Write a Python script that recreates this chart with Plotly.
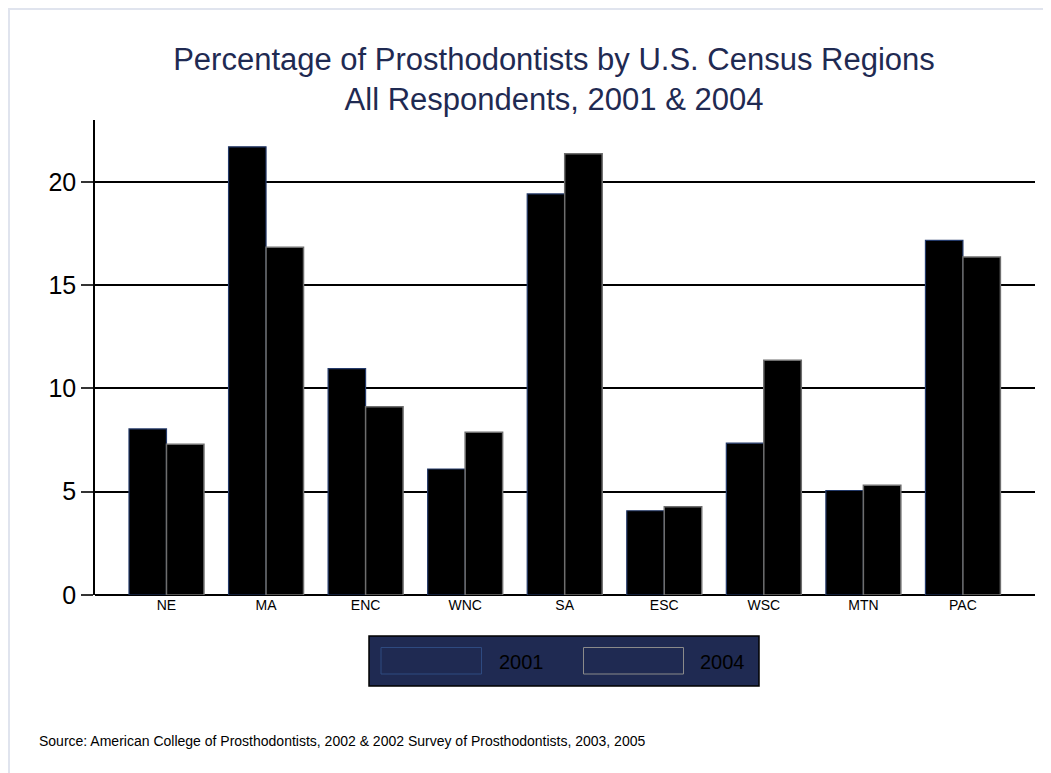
import plotly.graph_objects as go

regions = ["NE", "MA", "ENC", "WNC", "SA", "ESC", "WSC", "MTN", "PAC"]
pct_2001 = [8.04, 21.7, 10.96, 6.10, 19.42, 4.08, 7.35, 5.06, 17.17]
pct_2004 = [7.30, 16.84, 9.11, 7.88, 21.37, 4.27, 11.37, 5.31, 16.37]
y_ticks = [0, 5, 10, 15, 20]
series_names = ["2001", "2004"]

W, H = 1051, 773
OFF = 8  # page offset of the figure in the browser
ML, MR, MT, MB = 87, 24, 112, 186
PW = W - ML - MR
PH = H - MT - MB
FONT = "Arial, 'Liberation Sans', sans-serif"
NAVY = "#1f2a52"


def px_x(px):
    return (px - OFF - ML) / PW


def px_y(py):
    return (H - MB - (py - OFF)) / PH


fig = go.Figure()
fig.add_trace(go.Bar(x=regions, y=pct_2001, name=series_names[0],
                     marker=dict(color="black", line=dict(color="#243a6a", width=1.2)),
                     showlegend=False))
fig.add_trace(go.Bar(x=regions, y=pct_2004, name=series_names[1],
                     marker=dict(color="black", line=dict(color="#6e6e6e", width=1.5)),
                     showlegend=False))

shapes = []
# outer faint frame
shapes.append(dict(type="line", xref="paper", yref="paper",
                   x0=px_x(7), x1=px_x(1070), y0=px_y(9), y1=px_y(9),
                   line=dict(color="#e0e4ee", width=2)))
shapes.append(dict(type="line", xref="paper", yref="paper",
                   x0=px_x(9), x1=px_x(9), y0=px_y(9), y1=px_y(790),
                   line=dict(color="#e0e4ee", width=2)))
# legend box
shapes.append(dict(type="rect", xref="paper", yref="paper",
                   x0=px_x(369), x1=px_x(759), y0=px_y(686), y1=px_y(636),
                   fillcolor=NAVY, line=dict(color="black", width=1.5), layer="above"))
shapes.append(dict(type="rect", xref="paper", yref="paper",
                   x0=px_x(381), x1=px_x(481.5), y0=px_y(674), y1=px_y(647.5),
                   fillcolor=NAVY, line=dict(color="#2e4a80", width=1), layer="above"))
shapes.append(dict(type="rect", xref="paper", yref="paper",
                   x0=px_x(583.5), x1=px_x(683.5), y0=px_y(674), y1=px_y(647.5),
                   fillcolor=NAVY, line=dict(color="#8a8a8a", width=1), layer="above"))

annotations = [
    dict(text=series_names[0], xref="paper", yref="paper", x=px_x(497), y=px_y(662),
         xanchor="left", yanchor="middle", showarrow=False,
         font=dict(family=FONT, size=20, color="black")),
    dict(text=series_names[1], xref="paper", yref="paper", x=px_x(698), y=px_y(662),
         xanchor="left", yanchor="middle", showarrow=False,
         font=dict(family=FONT, size=20, color="black")),
    dict(text="Source: American College of Prosthodontists, 2002 & 2002 Survey of Prosthodontists, 2003, 2005",
         xref="paper", yref="paper", x=px_x(37), y=px_y(741), xanchor="left", yanchor="middle",
         showarrow=False, font=dict(family=FONT, size=14, color="black")),
]

fig.update_layout(
    width=W, height=H,
    margin=dict(l=ML, r=MR, t=MT, b=MB, autoexpand=False),
    paper_bgcolor="white", plot_bgcolor="white",
    barmode="group", bargap=0.247, bargroupgap=0,
    title=dict(text="Percentage of Prosthodontists by U.S. Census Regions<br>All Respondents, 2001 & 2004",
               x=(554 - OFF) / W, xref="container", xanchor="center",
               y=1 - 62 / H, yref="container", yanchor="top",
               font=dict(family=FONT, size=31, color=NAVY)),
    xaxis=dict(type="category", range=[-0.718, 8.724], showgrid=False, zeroline=False,
               showline=False, ticks="", tickfont=dict(family=FONT, size=14, color="black")),
    yaxis=dict(range=[0, 23], tickvals=y_ticks, showgrid=True, gridcolor="black", gridwidth=2,
               zeroline=True, zerolinecolor="black", zerolinewidth=2,
               showline=True, linecolor="black", linewidth=1.5,
               ticks="outside", ticklen=12, tickwidth=1.5, tickcolor="#333333",
               tickfont=dict(family=FONT, size=25, color="black")),
    shapes=shapes, annotations=annotations,
)

fig.write_html("out.html")
